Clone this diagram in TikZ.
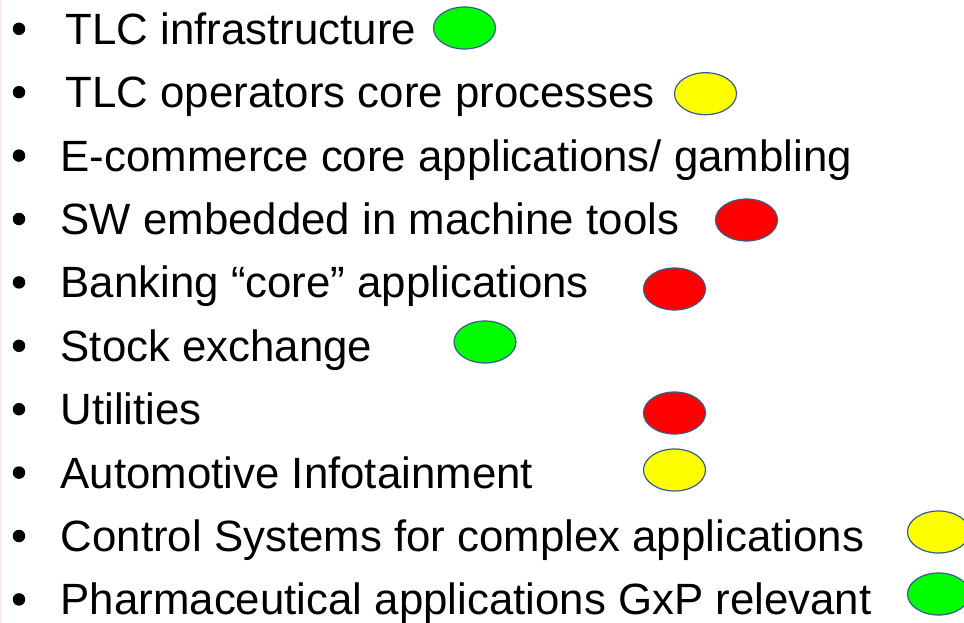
\documentclass[tikz,border=0pt]{standalone}
\usepackage{fontspec}
\setmainfont{Liberation Sans}
\usetikzlibrary{shapes.geometric}

\definecolor{okgreen}{RGB}{0,255,0}
\definecolor{warnyellow}{RGB}{255,255,0}
\definecolor{badred}{RGB}{255,0,0}
\definecolor{rimblue}{RGB}{56,93,138}
\definecolor{edgepink}{RGB}{250,236,236}

\begin{document}
\begin{tikzpicture}
        [%%%%%%%%%%%%%%%%%%%%%%%%%%%%%%
        x=1pt,y=-1pt,
        dot/.style={circle,fill=black,inner sep=0pt,minimum size=12.5pt},
        item/.style={anchor=base west,inner sep=0pt,font=\fontsize{43.8}{52}\selectfont},
        blob/.style={ellipse,draw=rimblue,line width=1.2pt,minimum width=62pt,minimum height=42pt,inner sep=0pt},
        ]%%%%%%%%%%%%%%%%%%%%%%%%%%%%%%
        \clip (0,0) rectangle (964,623);
        \useasboundingbox (0,0) rectangle (964,623);
        \fill[edgepink] (0,0) rectangle (2,623);
        \foreach \xo/\t [count=\i] in {65.5/{TLC infrastructure},
                                       65.5/{TLC operators core processes},
                                       60.5/{E-commerce core applications/ gambling},
                                       60.5/{SW embedded in machine tools},
                                       60.5/{Banking “core” applications},
                                       60.5/{Stock exchange},
                                       60.5/{Utilities},
                                       60.5/{Automotive Infotainment},
                                       60.5/{Control Systems for complex applications},
                                       60.5/{Pharmaceutical applications GxP relevant}}{
          % bullet and text of each line
          \node[dot] (b\i) at (19, 28.8+63.4*\i-63.4){};
          \node[item] (t\i) at (\xo, 44.3+63.4*\i-63.4){\t};
        }
        % rating marks
        \node[blob,fill=okgreen] (e1) at (464.5,28){};
        \node[blob,fill=warnyellow] (e2) at (705.5,93.7){};
        \node[blob,fill=badred] (e4) at (746.5,220){};
        \node[blob,fill=badred] (e5) at (674.5,289){};
        \node[blob,fill=okgreen] (e6) at (485,342){};
        \node[blob,fill=badred] (e7) at (674.5,413){};
        \node[blob,fill=warnyellow] (e8) at (674.5,470){};
        \node[blob,fill=warnyellow] (e9) at (938.5,532){};
        \node[blob,fill=okgreen] (e10) at (938.5,594){};

      \end{tikzpicture}
\end{document}
